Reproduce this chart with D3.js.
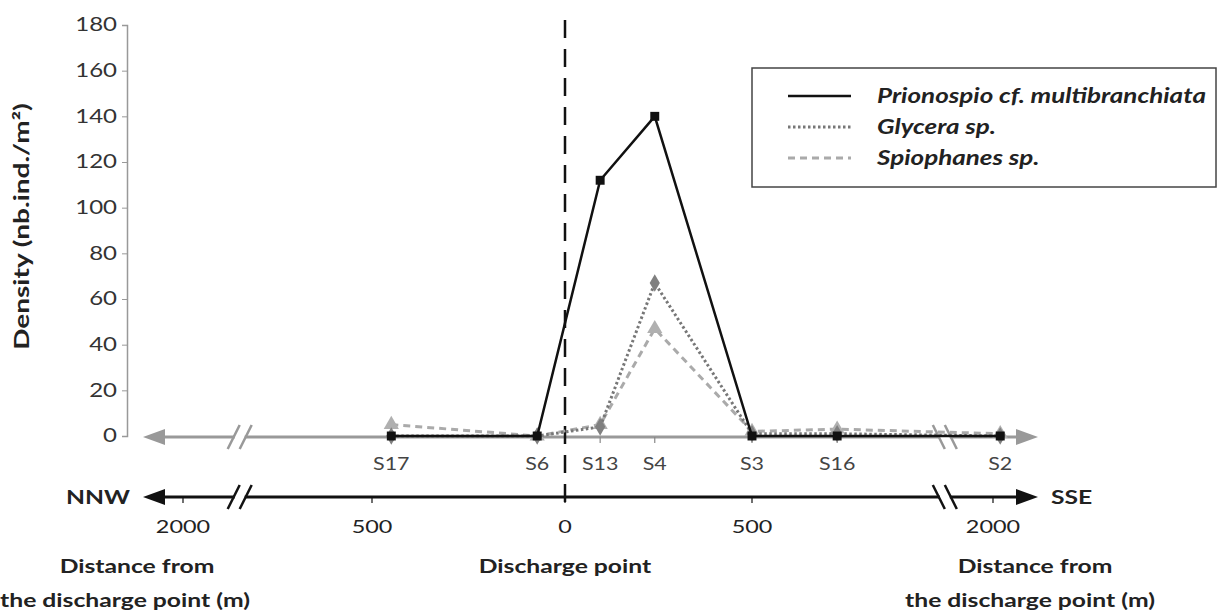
<!DOCTYPE html>
<html>
<head>
<meta charset="utf-8">
<script src="https://cdn.jsdelivr.net/npm/d3@7"></script>
<style>
  body { margin: 0; background: #fff; }
  svg text { font-family: Lato, "Open Sans", sans-serif; }
</style>
</head>
<body>
<div id="chart"></div>
<script>
// stations along the transect, distance from the discharge point (m, NNW negative)
const stations = ['S17', 'S6', 'S13', 'S4', 'S3', 'S16', 'S2']
const stationDist = [-450, -72, 94, 240, 500, 1030, 2045]

const prionospio = [0, 0, 112, 140, 0, 0, 0]
const glycera = [0, 0, 4, 67, 1, 1, 0]
const spiophanes = [5, 0, 5, 47, 2, 3, 1]

const yTicks = [0, 20, 40, 60, 80, 100, 120, 140, 160, 180]
const distTicks = [-2000, -500, 0, 500, 2000]
const distLabels = ['2000', '500', '0', '500', '2000']
const breaks = [-1550, 1700]

const width = 1218
const height = 614
// the original figure's type is set wide, so stretch glyphs horizontally
const stretch = 1.3

const svg = d3.select('#chart').append('svg')
  .attr('width', width)
  .attr('height', height)

const y = d3.scaleLinear().domain([0, 180]).range([436, 25])
// broken distance axis: piecewise linear
const x = d3.scaleLinear()
  .domain([-2000, -500, 0, 500, 2000])
  .range([183, 372, 565, 752, 993])

const axisLeft = 143
const axisRight = 1038
const upperY = y(0) + 1
const lowerY = 497

function label(g, tx, ty, str, o = {}) {
  return g.append('text')
    .attr('transform', `translate(${tx},${ty}) scale(${o.sx || stretch},1)`)
    .attr('text-anchor', o.anchor || 'middle')
    .attr('fill', o.color || '#222')
    .style('font-size', (o.size || 18) + 'px')
    .style('font-weight', o.bold ? 'bold' : 'normal')
    .style('font-style', o.italic ? 'italic' : 'normal')
    .text(str)
}

// y axis
const yAxis = svg.append('g')
  .attr('transform', 'translate(127,0)')
  .call(d3.axisLeft(y).tickValues(yTicks).tickSize(5).tickPadding(6))
yAxis.select('.domain').attr('stroke', '#999').attr('stroke-width', 1.5)
yAxis.selectAll('.tick line').attr('stroke', '#999')
yAxis.selectAll('.tick text')
  .attr('x', -10 / stretch)
  .attr('transform', `scale(${stretch},1)`)
  .attr('fill', '#333')
  .style('font-size', '18.5px')
  .style('font-family', 'Lato, sans-serif')

svg.append('text')
  .attr('transform', `translate(29,${y(90) - 4}) rotate(-90) scale(1.4,1)`)
  .attr('text-anchor', 'middle')
  .style('font-size', '20px')
  .style('font-weight', 'bold')
  .attr('fill', '#222')
  .text('Density (nb.ind./m²)')

function arrow(g, tipX, yy, dir, color) {
  g.append('path')
    .attr('d', `M${tipX},${yy} L${tipX - dir * 22},${yy - 8} L${tipX - dir * 22},${yy + 8} Z`)
    .attr('fill', color)
}

function breakMark(g, bx, yy, dir, color) {
  g.append('rect')
    .attr('x', bx - 5).attr('y', yy - 3).attr('width', 10).attr('height', 6)
    .attr('fill', '#fff')
  ;[-6, 6].forEach(off => {
    g.append('line')
      .attr('x1', bx + off - dir * 6).attr('y1', yy + 12)
      .attr('x2', bx + off + dir * 6).attr('y2', yy - 12)
      .attr('stroke', color).attr('stroke-width', 2.5)
  })
}

// upper station axis (grey)
const upper = svg.append('g')
upper.append('line')
  .attr('x1', axisLeft + 10).attr('x2', axisRight - 10)
  .attr('y1', upperY).attr('y2', upperY)
  .attr('stroke', '#999').attr('stroke-width', 3)
arrow(upper, axisLeft, upperY, -1, '#999')
arrow(upper, axisRight, upperY, 1, '#999')
upper.selectAll('.stick').data(stationDist).join('line')
  .attr('x1', d => x(d)).attr('x2', d => x(d))
  .attr('y1', upperY).attr('y2', upperY + 6)
  .attr('stroke', '#888').attr('stroke-width', 1.2)
stations.forEach((s, i) => {
  label(upper, x(stationDist[i]), upperY + 33, s, { size: 16.5, color: '#444' })
})

// lower distance axis (black)
const lower = svg.append('g')
lower.append('line')
  .attr('x1', axisLeft + 10).attr('x2', axisRight - 10)
  .attr('y1', lowerY).attr('y2', lowerY)
  .attr('stroke', '#111').attr('stroke-width', 3)
arrow(lower, axisLeft, lowerY, -1, '#111')
arrow(lower, axisRight, lowerY, 1, '#111')
lower.selectAll('.dtick').data(distTicks).join('line')
  .attr('x1', d => x(d)).attr('x2', d => x(d))
  .attr('y1', lowerY).attr('y2', lowerY + 6)
  .attr('stroke', '#111').attr('stroke-width', 1.2)
distTicks.forEach((d, i) => {
  label(lower, x(d), lowerY + 36, distLabels[i], { size: 18, color: '#222' })
})

breaks.forEach(b => {
  const dir = b < 0 ? 1 : -1
  breakMark(upper, x(b), upperY, dir, '#999')
  breakMark(lower, x(b), lowerY, dir, '#111')
})

label(lower, 130, lowerY + 7, 'NNW', { anchor: 'end', size: 19, bold: true })
label(lower, 1051, lowerY + 7, 'SSE', { anchor: 'start', size: 19, bold: true })

const titles = [
  { lines: ['Distance from', 'the discharge point (m)'], xs: [137, 125] },
  { lines: ['Discharge point'], xs: [565] },
  { lines: ['Distance from', 'the discharge point (m)'], xs: [1035, 1030] },
]
titles.forEach(t => {
  t.lines.forEach((l, i) => {
    label(svg, t.xs[i], 573 + i * 34, l, { size: 19, bold: true })
  })
})

// discharge point dashed line
svg.append('line')
  .attr('x1', x(0)).attr('x2', x(0))
  .attr('y1', 20).attr('y2', 504)
  .attr('stroke', '#111').attr('stroke-width', 2.5)
  .attr('stroke-dasharray', '18,11')

// series
const series = [
  { name: 'Prionospio cf. multibranchiata', values: prionospio, color: '#111', width: 2.5, dash: null, marker: d3.symbolSquare, msize: 80, mcolor: '#111' },
  { name: 'Glycera sp.', values: glycera, color: '#777', width: 3, dash: '2.5,2.5', marker: d3.symbolDiamond, msize: 90, mcolor: '#808080' },
  { name: 'Spiophanes sp.', values: spiophanes, color: '#aaa', width: 3, dash: '7,5', marker: d3.symbolTriangle, msize: 100, mcolor: '#b0b0b0' },
]

const line = d3.line()
  .x(d => x(d[0]))
  .y(d => y(d[1]))

// draw lighter series first so the black line sits on top
series.slice().reverse().forEach(s => {
  const pts = stationDist.map((d, i) => [d, s.values[i]])
  svg.append('path')
    .datum(pts)
    .attr('d', line)
    .attr('fill', 'none')
    .attr('stroke', s.color)
    .attr('stroke-width', s.width)
    .attr('stroke-dasharray', s.dash)
  svg.selectAll(null).data(pts).join('path')
    .attr('transform', d => `translate(${x(d[0])},${y(d[1])})`)
    .attr('d', d3.symbol().type(s.marker).size(s.msize))
    .attr('fill', s.mcolor)
})

// legend
const legend = svg.append('g')
legend.append('rect')
  .attr('x', 752).attr('y', 68)
  .attr('width', 464).attr('height', 119)
  .attr('fill', '#fff')
  .attr('stroke', '#444').attr('stroke-width', 1.5)
series.forEach((s, i) => {
  const ly = 96 + i * 31
  legend.append('line')
    .attr('x1', 788).attr('x2', 851)
    .attr('y1', ly).attr('y2', ly)
    .attr('stroke', s.color)
    .attr('stroke-width', s.width)
    .attr('stroke-dasharray', s.dash)
  label(legend, 877, ly + 7, s.name, { anchor: 'start', size: 20, bold: true, italic: true })
})
</script>
</body>
</html>
